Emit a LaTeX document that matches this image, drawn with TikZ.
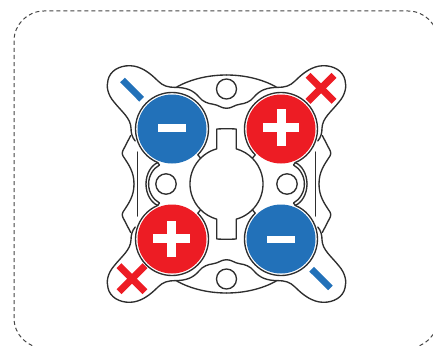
\documentclass[tikz,border=0pt]{standalone}
\definecolor{lineK}{HTML}{2E2E2E}
\definecolor{dashK}{HTML}{444444}
\definecolor{signblue}{HTML}{2271B9}
\definecolor{signred}{HTML}{ED1C24}
\tikzset{
  outline/.style={draw=lineK,line width=1.35pt,line join=round,line cap=round},
  dashbox/.style={draw=dashK,line width=1pt,dash pattern=on 4pt off 3pt},
  bluefill/.style={fill=signblue},
  redfill/.style={fill=signred},
  signbar/.style={fill=white},
  bluebar/.style={draw=signblue,line width=6.6pt},
  crossbar/.style={draw=signred,line width=7pt}
}
\newcommand{\bodyquadrant}{%
  % ring round the terminal
  \draw[outline] (172,129) ++(45:36.5) arc (45:-247:36.5);
  % tick from ring to central bore
  \draw[outline] (197.8,154.8) -- (200.6,158.2);
  % crescent round the side hole
  \draw[outline] (157.7,162.6) -- (159.5,165)
     .. controls (153,168.5) and (148.6,176) .. (148.6,184);
  \draw[outline] (157.7,162.6) .. controls (151,165.5) and (146,174) .. (146,184);
  % vertical side line
  \draw[outline,line width=1.5pt] (137.5,152) -- (137.5,184);
  % tab and inner upper edge
  \draw[outline] (135.2,141)
     .. controls (132,137) and (131,133) .. (131,128)
     .. controls (130.5,118) and (122,112) .. (114,102)
     .. controls (108,95) and (106,87) .. (108,80)
     .. controls (110,71) and (119,65.5) .. (130,65.7)
     .. controls (141,66) and (150,73) .. (158,81)
     .. controls (163,86) and (168,87.3) .. (175,87.4)
     .. controls (186,87.4) and (193,90) .. (199,97)
     .. controls (203,102) and (208,103.5) .. (213,104.2)
     .. controls (219,105) and (221,108.3) .. (226.5,108.3);
  % top arc
  \draw[outline] (176.7,87) .. controls (192,78.5) and (210,75) .. (226.5,75);
  % side wing
  \draw[outline] (130.7,135.5) -- (122.7,151)
     .. controls (122,153) and (122,154.5) .. (123,156)
     .. controls (129,165) and (134,172) .. (134,184);
}
\begin{document}
\begin{tikzpicture}[x=1pt,y=-1pt]
\useasboundingbox (0,0) rectangle (433,345);
\begin{scope}
\clip (0,0) rectangle (433,345);
\draw[dashbox,rounded corners=30pt] (14,11) rectangle (438,348);
\end{scope}
% body, one quadrant mirrored four times
\begin{scope}\bodyquadrant\end{scope}
\begin{scope}[shift={(453,0)},xscale=-1]\bodyquadrant\end{scope}
\begin{scope}[shift={(0,368)},yscale=-1]\bodyquadrant\end{scope}
\begin{scope}[shift={(453,368)},xscale=-1,yscale=-1]\bodyquadrant\end{scope}
% central bore with keyways
\draw[outline] (236.2,148.8) -- (236.2,129) to[bend right=3] (216.8,129) -- (216.8,148.8)
  arc (254.6:105.4:36.5) -- (216.8,239) to[bend right=3] (236.2,239) -- (236.2,219.2)
  arc (74.6:-74.6:36.5) -- cycle;
% small holes
\draw[outline] (166,184) circle (10.2);
\draw[outline] (287,184) circle (10.2);
\draw[outline] (226.5,89) circle (10);
\draw[outline] (226.5,279) circle (10);
% terminals
\fill[bluefill] (172,129) circle (34.5);
\fill[redfill] (281,129) circle (34.5);
\fill[redfill] (172,239) circle (34.5);
\fill[bluefill] (281,239) circle (34.5);
% signs
\fill[signbar] (158.3,124.3) rectangle (185.7,131.7);
\fill[signbar] (262.7,122.9) rectangle (299.3,131.9);
\fill[signbar] (276.7,109.3) rectangle (285.5,145.7);
\fill[signbar] (153.3,233.6) rectangle (190,242.6);
\fill[signbar] (167.4,220.5) rectangle (176.2,256.8);
\fill[signbar] (267.3,236) rectangle (294.7,243.4);
% tab marks
\draw[bluebar] (122.5,80) -- (141.6,99.2);
\draw[bluebar] (311.6,269.2) -- (330.4,287.9);
\draw[crossbar] (308,75.3) -- (334,101.3);
\draw[crossbar] (334,75.3) -- (308,101.3);
\draw[crossbar] (119,265.7) -- (145,291.7);
\draw[crossbar] (145,265.7) -- (119,291.7);
\end{tikzpicture}
\end{document}
